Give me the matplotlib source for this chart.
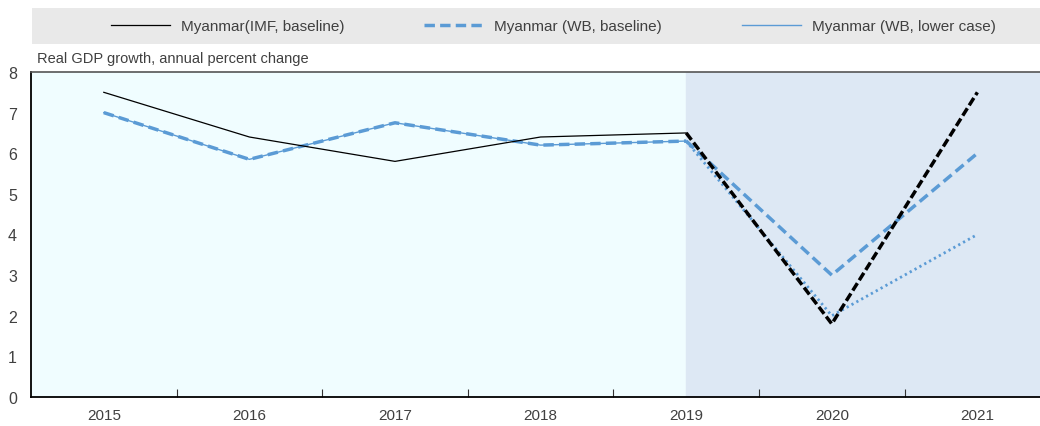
import numpy as np
import matplotlib.pyplot as plt
from matplotlib.patches import Rectangle
from matplotlib.lines import Line2D

plt.rcParams['font.family'] = ['Liberation Sans', 'DejaVu Sans']

years = ['2015', '2016', '2017', '2018', '2019', '2020', '2021']
imf_base = [7.5, 6.4, 5.8, 6.4, 6.5, 1.8, 7.5]
wb_base = [7.0, 5.85, 6.75, 6.2, 6.3, 3.0, 6.0]
wb_lower = [7.0, 5.85, 6.75, 6.2, 6.3, 2.0, 4.0]
proj_start = 4  # index of 2019, projections after

blue = '#5B9BD5'
txt = '#404040'

fig = plt.figure(figsize=(10.4, 4.27), dpi=100)
ax = fig.add_axes([31/1040, 29/427, 1 - 31/1040, 325/427])

x = np.arange(len(years))
h = slice(0, proj_start + 1)
p = slice(proj_start, len(years))

ax.set_xlim(-0.5, 6.43)
ax.set_ylim(0, 8)
ax.set_facecolor('#F0FDFF')
ax.axvspan(proj_start, 7, color='#DDE8F4', zorder=0)

# historical
ax.plot(x[h], wb_lower[h], color=blue, lw=1, zorder=3)
ax.plot(x[h], wb_base[h], color=blue, lw=2.5, dashes=(3, 1.5), zorder=3)
ax.plot(x[h], imf_base[h], color='black', lw=0.9, zorder=4)
# projections
ax.plot(x[p], wb_lower[p], color=blue, lw=2, linestyle=(0, (0.8, 1.2)), zorder=3)
ax.plot(x[p], wb_base[p], color=blue, lw=2.5, dashes=(3, 1.5), zorder=3)
ax.plot(x[p], imf_base[p], color='black', lw=2.5, dashes=(2.5, 1), zorder=4)

ax.set_xticks(x)
ax.set_xticklabels(years)
ax.set_xticks(x[:-1] + 0.5, minor=True)
ax.tick_params(axis='x', which='major', length=0, pad=8, labelsize=11, colors=txt)
ax.tick_params(axis='x', which='minor', direction='in', length=6, width=0.8, color='#333333')
ax.tick_params(axis='y', length=0, pad=10, labelsize=11.5, colors=txt)
ax.set_yticks(range(0, 9))

for s in ['left', 'bottom']:
    ax.spines[s].set_linewidth(1.3)
    ax.spines[s].set_color('black')
ax.spines['top'].set_linewidth(1.2)
ax.spines['top'].set_color('#555555')
ax.spines['right'].set_visible(False)

fig.text(37/1040, 1 - 59/427, 'Real GDP growth, annual percent change',
         fontsize=10.5, color=txt, va='center', ha='left')

# legend band
fig.patches.append(Rectangle((32/1040, 1 - 45/427), 1 - 32/1040, 36/427,
                             transform=fig.transFigure, facecolor='#E9E9E9',
                             edgecolor='none', zorder=0))
handles = [
    Line2D([], [], color='black', lw=0.9),
    Line2D([], [], color=blue, lw=2.5, dashes=(3, 1.5)),
    Line2D([], [], color=blue, lw=1),
]
labels = ['Myanmar(IMF, baseline)', 'Myanmar (WB, baseline)', 'Myanmar (WB, lower case)']
leg = fig.legend(handles, labels, loc='center', ncol=3, frameon=False,
                 bbox_to_anchor=(0.532, 1 - 27/427), fontsize=11,
                 handlelength=3.9, columnspacing=5.2, handletextpad=0.7)
for t in leg.get_texts():
    t.set_color(txt)

fig.savefig('out.png', dpi=100)
